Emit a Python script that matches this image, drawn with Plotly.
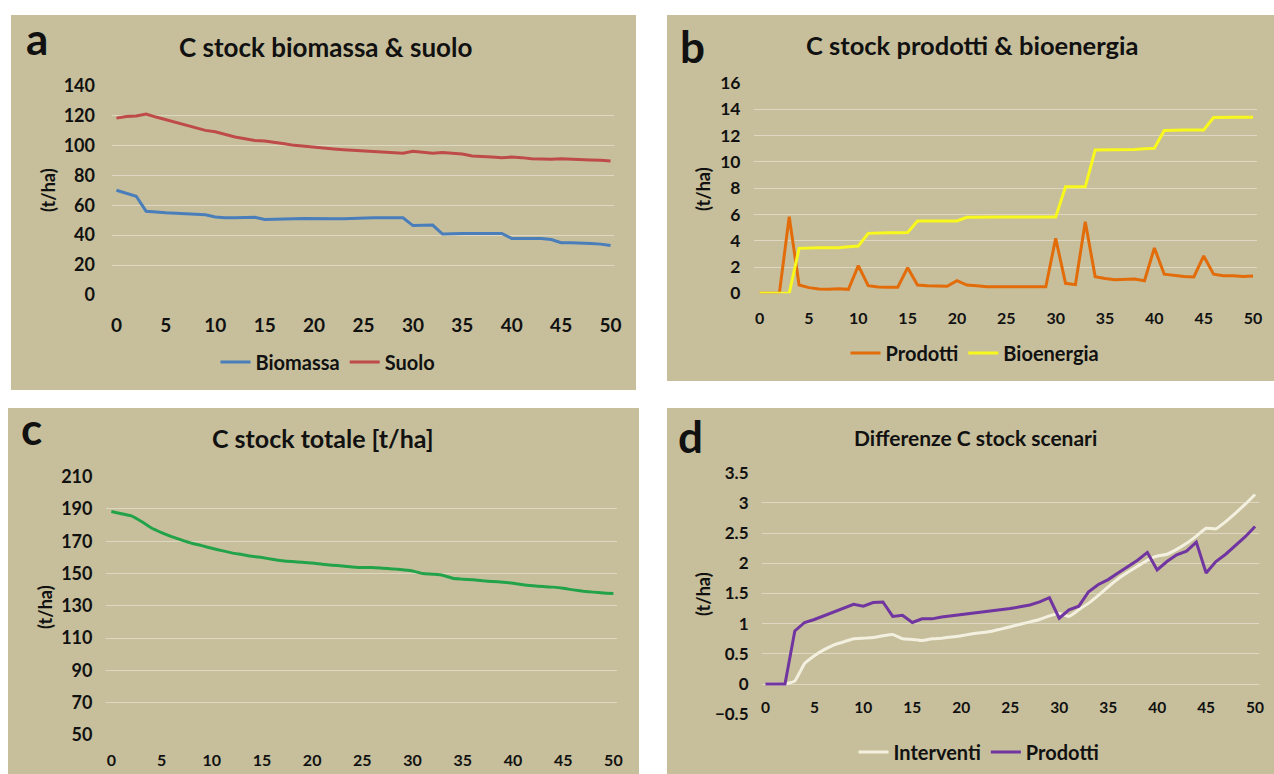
import plotly.graph_objects as go

W, H = 1274, 774

# ---- data -------------------------------------------------------------
anni = list(range(0, 51))
anni_ticks = [0, 5, 10, 15, 20, 25, 30, 35, 40, 45, 50]

biomassa = [70.0, 67.8, 66.0, 56.0, 55.3, 54.9, 54.7, 54.2, 54.0, 53.6,
            52.2, 51.6, 51.6, 51.8, 52.0, 50.4, 50.4, 50.7, 50.9, 51.1,
            50.9, 50.9, 50.9, 50.9, 51.3, 51.6, 51.6, 51.6, 51.6, 51.6,
            46.4, 46.7, 46.7, 40.7, 41.1, 41.1, 41.1, 41.1, 41.1, 41.1,
            37.8, 37.8, 37.8, 37.8, 37.1, 34.9, 34.9, 34.4, 34.4, 34.0, 33.1]
suolo = [118.2, 119.3, 119.6, 120.9, 118.9, 117.1, 115.3, 113.1, 111.8, 110.0,
         109.1, 107.3, 105.6, 104.4, 103.3, 102.9, 102.2, 101.1, 100.0, 99.3,
         99.1, 98.2, 97.6, 97.1, 96.7, 96.2, 95.8, 95.3, 95.1, 94.7,
         96.0, 95.3, 94.7, 95.3, 94.9, 94.2, 92.9, 92.7, 92.2, 91.8,
         92.2, 91.8, 91.1, 90.9, 90.7, 91.1, 90.7, 90.2, 90.2, 90.0, 89.6]

prodotti = [0, 0, 0, 5.83, 0.63, 0.43, 0.33, 0.30, 0.35, 0.30,
            2.10, 0.58, 0.48, 0.46, 0.46, 1.95, 0.63, 0.58, 0.53, 0.53,
            0.96, 0.63, 0.58, 0.50, 0.50, 0.50, 0.50, 0.50, 0.50, 0.50,
            4.18, 0.76, 0.66, 5.45, 1.27, 1.12, 1.04, 1.04, 1.09, 0.96,
            3.45, 1.45, 1.34, 1.27, 1.24, 2.84, 1.45, 1.34, 1.34, 1.27, 1.32]
bioenergia = [0, 0, 0, 0, 3.42, 3.47, 3.47, 3.47, 3.47, 3.55,
              3.60, 4.56, 4.60, 4.60, 4.60, 4.62, 5.50, 5.50, 5.50, 5.50,
              5.50, 5.78, 5.80, 5.80, 5.80, 5.80, 5.80, 5.80, 5.80, 5.80,
              5.80, 8.10, 8.10, 8.10, 10.90, 10.90, 10.90, 10.90, 10.95, 11.00,
              11.03, 12.38, 12.43, 12.43, 12.43, 12.43, 13.37, 13.40, 13.40, 13.40, 13.40]

totale = [188.4, 187.1, 185.7, 182.2, 178.2, 175.4, 172.9, 170.8, 168.8, 167.3,
          165.7, 164.2, 162.8, 161.8, 160.7, 159.9, 158.9, 158.0, 157.4, 157.0,
          156.6, 155.8, 155.2, 154.7, 154.1, 153.7, 153.7, 153.3, 152.9, 152.3,
          151.6, 150.0, 149.6, 149.0, 147.1, 146.5, 146.1, 145.5, 145.1, 144.6,
          144.0, 143.0, 142.4, 142.0, 141.6, 140.9, 139.9, 139.1, 138.5, 138.0, 137.7]

diff_interventi = [0, 0, 0, 0.05, 0.34, 0.47, 0.57, 0.65, 0.70, 0.75,
                   0.76, 0.77, 0.80, 0.82, 0.75, 0.74, 0.72, 0.75, 0.76, 0.78,
                   0.80, 0.83, 0.85, 0.87, 0.91, 0.95, 0.99, 1.03, 1.07, 1.13,
                   1.17, 1.12, 1.23, 1.34, 1.47, 1.61, 1.74, 1.85, 1.95, 2.05,
                   2.12, 2.15, 2.23, 2.33, 2.45, 2.58, 2.57, 2.69, 2.83, 2.98, 3.14]
diff_prodotti = [0, 0, 0, 0.88, 1.02, 1.07, 1.13, 1.20, 1.26, 1.32,
                 1.29, 1.35, 1.36, 1.12, 1.14, 1.02, 1.08, 1.08, 1.11, 1.13,
                 1.14, 1.16, 1.18, 1.20, 1.23, 1.25, 1.28, 1.31, 1.36, 1.43,
                 1.09, 1.23, 1.29, 1.53, 1.65, 1.73, 1.84, 1.95, 2.05, 2.18,
                 1.89, 2.03, 2.14, 2.20, 2.35, 1.84, 2.03, 2.15, 2.29, 2.44, 2.61]

# ---- styling ----------------------------------------------------------
FONT = "Lato, 'Open Sans', sans-serif"
TAN = "#C7BF9B"
GRID = "#DED8C2"
INK = "#111111"


def fx(px):
    return px / W


def fy(py):
    return 1 - py / H


def xaxis_cfg(left, right, rng, size, standoff, anchor):
    return dict(domain=[fx(left), fx(right)], range=rng, tickvals=anni_ticks,
                showgrid=False, zeroline=False, showline=False, ticks="",
                ticklabelstandoff=standoff, anchor=anchor, automargin=False,
                tickfont=dict(family=FONT, size=size, color=INK, weight="bold"))


def yaxis_cfg(bottom, top, rng, dtick, size, standoff, anchor):
    return dict(domain=[fy(bottom), fy(top)], range=rng, tick0=rng[0], dtick=dtick,
                showgrid=True, gridcolor=GRID, gridwidth=1.2, zeroline=False,
                showline=False, ticks="", ticklabelstandoff=standoff, anchor=anchor,
                automargin=False,
                tickfont=dict(family=FONT, size=size, color=INK, weight="bold"))


fig = go.Figure()

# panel a
fig.add_trace(go.Scatter(x=anni, y=biomassa, name="Biomassa", mode="lines",
                         line=dict(color="#4A7EBB", width=3), xaxis="x", yaxis="y",
                         legend="legend"))
fig.add_trace(go.Scatter(x=anni, y=suolo, name="Suolo", mode="lines",
                         line=dict(color="#BE4B48", width=3), xaxis="x", yaxis="y",
                         legend="legend"))
# panel b
fig.add_trace(go.Scatter(x=anni, y=prodotti, name="Prodotti", mode="lines",
                         line=dict(color="#E36C0A", width=3), xaxis="x2", yaxis="y2",
                         legend="legend2"))
fig.add_trace(go.Scatter(x=anni, y=bioenergia, name="Bioenergia", mode="lines",
                         line=dict(color="#F8F81C", width=3), xaxis="x2", yaxis="y2",
                         legend="legend2"))
# panel c
fig.add_trace(go.Scatter(x=anni, y=totale, name="Totale", mode="lines",
                         line=dict(color="#22A34A", width=3, shape="spline", smoothing=0.5),
                         xaxis="x3", yaxis="y3", showlegend=False))
# panel d
fig.add_trace(go.Scatter(x=anni, y=diff_interventi, name="Interventi", mode="lines",
                         line=dict(color="#F3F0E0", width=3, shape="spline", smoothing=0.3),
                         xaxis="x4", yaxis="y4", legend="legend3"))
fig.add_trace(go.Scatter(x=anni, y=diff_prodotti, name="Prodotti", mode="lines",
                         line=dict(color="#7035A0", width=3), xaxis="x4", yaxis="y4",
                         legend="legend3"))

# panel backgrounds
panels = [(11, 15, 636, 390), (667, 15, 1274, 381), (8, 408, 639, 774), (667, 408, 1274, 774)]
shapes = [dict(type="rect", xref="paper", yref="paper", x0=fx(l), x1=fx(r), y0=fy(b), y1=fy(t),
               fillcolor=TAN, line=dict(width=0), layer="below") for (l, t, r, b) in panels]


def label(text, x, y, size, **kw):
    return dict(text=text, x=fx(x), y=fy(y), xref="paper", yref="paper", showarrow=False,
                xanchor="center", yanchor="middle",
                font=dict(family=FONT, size=size, color=INK, weight="bold"), **kw)


annotations = [
    label("a", 37, 38, 44), label("b", 693, 46, 44), label("c", 31, 428, 44), label("d", 690, 436, 44),
    label("C stock biomassa & suolo", 325, 47, 26),
    label("C stock prodotti & bioenergia", 972, 45, 25.5),
    label("C stock totale [t/ha]", 323, 438, 25),
    label("Differenze C stock scenari", 975, 437, 21),
    label("(t/ha)", 48, 190, 18, textangle=-90),
    label("(t/ha)", 703, 189, 18, textangle=-90),
    label("(t/ha)", 45, 607, 18, textangle=-90),
    label("(t/ha)", 703, 594, 18, textangle=-90),
]

legend_font = dict(family=FONT, size=20, color=INK, weight="bold")


def legend_cfg(x, y):
    return dict(orientation="h", x=fx(x), y=fy(y), xanchor="center", yanchor="middle",
                bgcolor="rgba(0,0,0,0)", font=legend_font, itemwidth=30)


# zero-line position of panel d, where its category axis crosses
d_bottom, d_top = 714.3, 472.7
d_zero = d_bottom - (0 - (-0.5)) / 4.0 * (d_bottom - d_top)

fig.update_layout(
    width=W, height=H, margin=dict(l=0, r=0, t=0, b=0, autoexpand=False),
    paper_bgcolor="white", plot_bgcolor="rgba(0,0,0,0)",
    shapes=shapes, annotations=annotations,
    xaxis=xaxis_cfg(112, 614, [-0.45, 50.35], 19, 17, "y"),
    yaxis=yaxis_cfg(295, 85.5, [0, 140], 20, 18, 16, "x"),
    xaxis2=xaxis_cfg(753.5, 1257, [-0.62, 50.4], 16, 14, "y2"),
    yaxis2=yaxis_cfg(293.3, 83, [0, 16], 2, 17.5, 12, "x2"),
    xaxis3=xaxis_cfg(105.5, 617, [-0.58, 50.36], 16, 14, "y3"),
    yaxis3=yaxis_cfg(735, 476.7, [50, 210], 20, 18, 12, "x3"),
    xaxis4=dict(xaxis_cfg(761.5, 1258.5, [-0.4, 50.35], 15.5, 12, "free"), position=fy(d_zero)),
    yaxis4=yaxis_cfg(d_bottom, d_top, [-0.5, 3.5], 0.5, 17, 12, "x4"),
    legend=legend_cfg(328, 362),
    legend2=legend_cfg(975, 353),
    legend3=legend_cfg(979, 752),
)

fig.write_html("out.html")
